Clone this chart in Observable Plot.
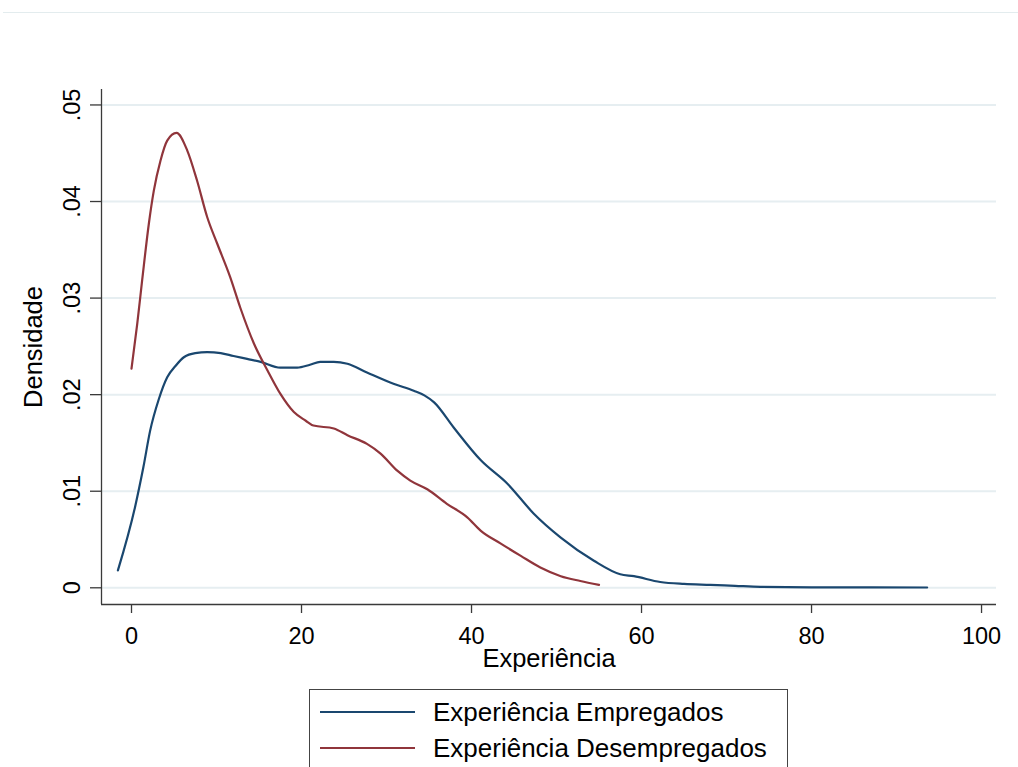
<!DOCTYPE html>
<html>
<head>
<meta charset="utf-8">
<script src="https://cdn.jsdelivr.net/npm/d3@7"></script>
<script src="https://cdn.jsdelivr.net/npm/@observablehq/plot@0.6"></script>
<style>
  html, body { margin: 0; padding: 0; background: #fff; font-family: "Liberation Sans", Arial, sans-serif; }
  #page { width: 1018px; height: 767px; overflow: hidden; position: relative; }
  #topline { height: 12px; margin-left: 3px; border-bottom: 1px solid #e3ecee; }
  #legend {
    position: absolute; left: 309px; top: 689px; width: 479px; height: 100px;
    border: 1px solid #444; box-sizing: border-box; padding: 4px 0 0 10px;
  }
  .row { display: flex; align-items: center; height: 36px; font-size: 26px; color: #000; }
  .swatch { width: 95px; height: 0; border-top: 2px solid; margin-right: 18px; }
</style>
</head>
<body>
<div id="page">
  <div id="topline"></div>
  <div id="chart"></div>
  <div id="legend"></div>
</div>
<script>
// Kernel density of experience, employed
const expEmp = [-1.6, 0.4, 1.4, 2.2, 3.2, 4.2, 5.2, 6.2, 7.5, 8.9, 10.5, 12.0, 13.6, 15.2, 17.5, 19.5, 21.0, 22.2, 23.8, 25.4, 27.7, 30.9, 33.2, 34.5, 35.6, 37.9, 41.1, 44.2, 47.3, 50.5, 54.4, 57.5, 59.1, 62.2, 65.0, 68.1, 71.0, 74.0, 80.0, 93.6];
const denEmp = [0.0018, 0.0083, 0.0125, 0.0163, 0.0195, 0.0218, 0.0230, 0.0239, 0.0243, 0.0244, 0.0243, 0.0240, 0.0237, 0.0234, 0.0228, 0.0228, 0.0231, 0.0234, 0.0234, 0.0232, 0.0223, 0.0211, 0.0204, 0.0199, 0.0192, 0.0166, 0.0132, 0.0108, 0.0077, 0.0052, 0.0028, 0.0014, 0.0012, 0.0006, 0.0004, 0.0003, 0.0002, 0.0001, 0.00005, 0.00003];

// Kernel density of experience, unemployed
const expDes = [0, 0.67, 1.26, 2.04, 2.62, 3.4, 4.2, 5.3, 6.55, 7.7, 8.9, 10.1, 11.6, 12.8, 14.4, 16.0, 17.5, 19.1, 20.5, 21.4, 23.8, 25.4, 27.7, 29.3, 31.3, 32.8, 34.8, 37.1, 39.5, 41.1, 43.4, 45.8, 48.1, 50.5, 52.8, 55.0];
const denDes = [0.0227, 0.0273, 0.0319, 0.0377, 0.0411, 0.0442, 0.0463, 0.0471, 0.0453, 0.0422, 0.0384, 0.0356, 0.0322, 0.0290, 0.0253, 0.0225, 0.0201, 0.0182, 0.0173, 0.0168, 0.0165, 0.0158, 0.0149, 0.0139, 0.0121, 0.0111, 0.0102, 0.0087, 0.0073, 0.0059, 0.0046, 0.0033, 0.0021, 0.0012, 0.0007, 0.0003];

const seriesNames = ["Experiência Empregados", "Experiência Desempregados"];
const seriesColors = ["#1a476f", "#90353b"];

const xTicks = [0, 20, 40, 60, 80, 100];
const yTicks = [0, 0.01, 0.02, 0.03, 0.04, 0.05];
const yTickLabels = ["0", ".01", ".02", ".03", ".04", ".05"];

const xLabel = "Experiência";
const yLabel = "Densidade";

const emp = expEmp.map((x, i) => ({x, y: denEmp[i]}));
const des = expDes.map((x, i) => ({x, y: denDes[i]}));
const yTickData = yTicks.map((v, i) => ({v, label: yTickLabels[i]}));

const xDomain = [-3.53, 101.76];
const yDomain = [-0.00173, 0.0516];
const axisColor = "#3a3a3a";

const chart = Plot.plot({
  width: 1018,
  height: 667,
  marginLeft: 101,
  marginRight: 22,
  marginTop: 76,
  marginBottom: 76,
  style: {fontFamily: "Liberation Sans, Arial, sans-serif", background: "#fff", color: "#000"},
  x: {domain: xDomain},
  y: {domain: yDomain},
  marks: [
    Plot.gridY(yTicks, {stroke: "#e6eef1", strokeOpacity: 1, strokeWidth: 2}),
    Plot.ruleX([xDomain[0]], {stroke: axisColor, strokeWidth: 1.3}),
    Plot.ruleY([yDomain[0]], {stroke: axisColor, strokeWidth: 1.3}),
    Plot.axisX({ticks: xTicks, tickSize: 9, tickPadding: 14, fontSize: 23.5, stroke: axisColor, strokeWidth: 1.3, label: null, fill: "#000"}),
    Plot.axisY({ticks: yTicks, tickSize: 11, tickFormat: () => "", stroke: axisColor, strokeWidth: 1.3, label: null}),
    Plot.text(yTickData, {y: "v", text: "label", frameAnchor: "left", dx: -29, rotate: -90, textAnchor: "middle", lineAnchor: "middle", fontSize: 23.5, fill: "#000"}),
    Plot.text([xLabel], {frameAnchor: "bottom", dy: 54.5, lineAnchor: "middle", fontSize: 25.5, fill: "#000"}),
    Plot.text([yLabel], {frameAnchor: "left", dx: -68, rotate: -90, textAnchor: "middle", lineAnchor: "middle", fontSize: 25.5, fill: "#000"}),
    Plot.line(emp, {x: "x", y: "y", stroke: seriesColors[0], strokeWidth: 2.2, curve: "monotone-x"}),
    Plot.line(des, {x: "x", y: "y", stroke: seriesColors[1], strokeWidth: 2.2, curve: "monotone-x"})
  ]
});
document.getElementById("chart").appendChild(chart);

const legend = document.getElementById("legend");
seriesNames.forEach((name, i) => {
  const row = document.createElement("div");
  row.className = "row";
  const sw = document.createElement("span");
  sw.className = "swatch";
  sw.style.borderTopColor = seriesColors[i];
  const label = document.createElement("span");
  label.textContent = name;
  row.appendChild(sw);
  row.appendChild(label);
  legend.appendChild(row);
});
</script>
</body>
</html>
